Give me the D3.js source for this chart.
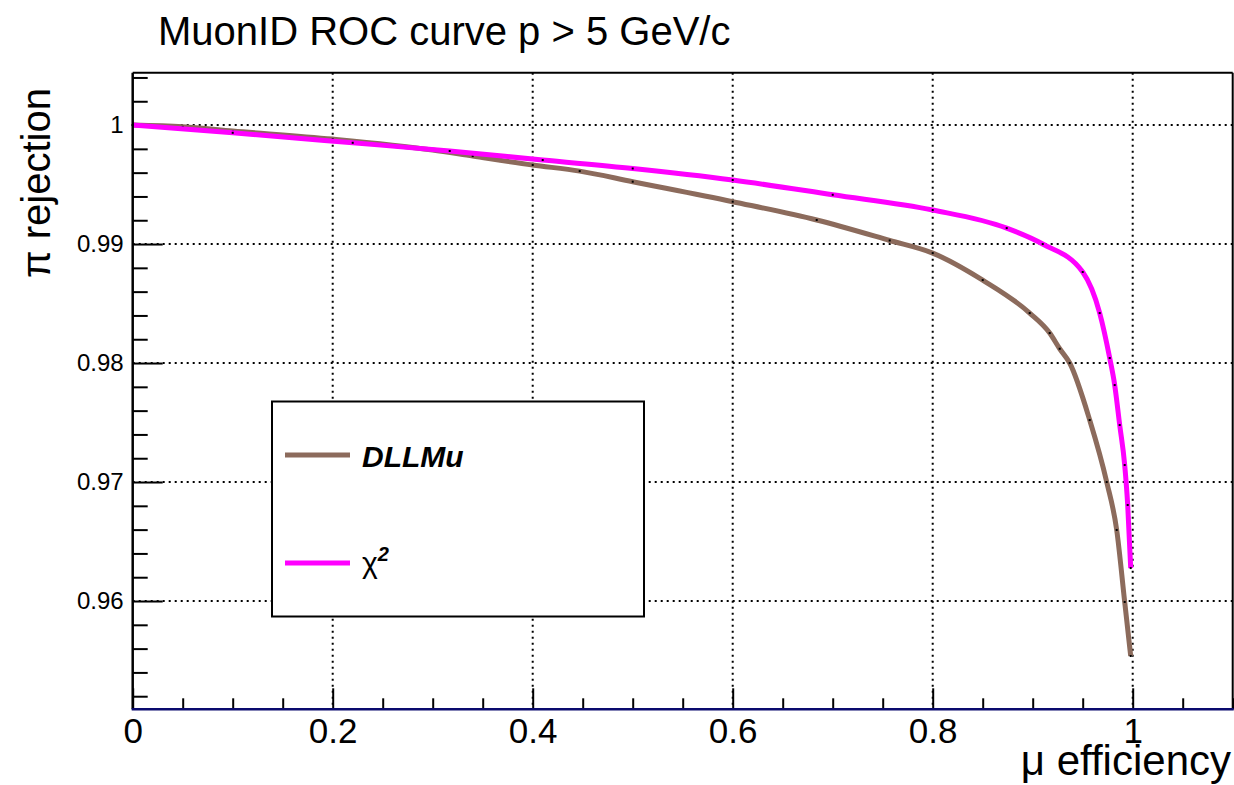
<!DOCTYPE html>
<html>
<head>
<meta charset="utf-8">
<script src="https://cdn.jsdelivr.net/npm/d3@7"></script>
<style>
  body { margin: 0; background: #fff; }
  text { font-family: "Liberation Sans", Arial, sans-serif; }
</style>
</head>
<body>
<svg id="chart" width="1234" height="785"></svg>
<script>
'use strict';

// DLLMu ROC curve
const dllEff = [0, 0.05, 0.1, 0.2, 0.3, 0.34, 0.40, 0.447, 0.5, 0.6, 0.684, 0.757, 0.8, 0.85, 0.897, 0.917, 0.927, 0.937, 0.957, 0.974, 0.984, 0.992, 0.998];
const dllRej = [1.0, 0.99985, 0.9995, 0.99882, 0.9979, 0.99739, 0.99664, 0.99613, 0.99524, 0.99356, 0.99202, 0.9903, 0.98924, 0.98697, 0.9842, 0.98252, 0.9812, 0.98, 0.97521, 0.97, 0.96597, 0.95992, 0.95538];

// chi2 ROC curve
const chiEff = [0, 0.1, 0.22, 0.317, 0.41, 0.5, 0.6, 0.7, 0.8, 0.874, 0.91, 0.95, 0.967, 0.977, 0.982, 0.987, 0.992, 0.995, 0.998];
const chiRej = [1.0, 0.99935, 0.99851, 0.99782, 0.99706, 0.99635, 0.99538, 0.99414, 0.99286, 0.99134, 0.99, 0.98765, 0.9842, 0.98042, 0.97815, 0.97479, 0.97143, 0.96807, 0.96277];

const xMajor = [0, 0.2, 0.4, 0.6, 0.8, 1];
const yMajor = [0.96, 0.97, 0.98, 0.99, 1];

const series = [
    { name: "DLLMu", eff: dllEff, rej: dllRej, color: "#8c6b5c" },
    { name: "chi2", eff: chiEff, rej: chiRej, color: "#ff00ff" }
];

let svg = d3.select("#chart");
let pLeft = 132.7, pRight = 1232.7, pTop = 72.7, pBottom = 709.3;

let x = d3.scaleLinear().domain([0, 1.1]).range([pLeft, pRight]);
let y = d3.scaleLinear().domain([0.9509, 1.0044]).range([pBottom, pTop]);

// grid
let grid = svg.append("g").attr("class", "grid")
    .attr("stroke", "#000").attr("stroke-width", 2).attr("stroke-dasharray", "2,4");
grid.selectAll("line.gx").data(xMajor.filter(d => d > 0)).enter().append("line")
    .attr("x1", d => x(d)).attr("x2", d => x(d))
    .attr("y1", pTop).attr("y2", pBottom);
grid.selectAll("line.gy").data(yMajor).enter().append("line")
    .attr("x1", pLeft).attr("x2", pRight)
    .attr("y1", d => y(d)).attr("y2", d => y(d));

// minor ticks
let xMinor = d3.range(0, 1.1001, 0.05).filter(v => Math.abs(v / 0.2 - Math.round(v / 0.2)) > 1e-6);
let yMinor = d3.range(0.952, 1.0041, 0.002).filter(v => Math.abs(v / 0.01 - Math.round(v / 0.01)) > 1e-6);

svg.append("g").attr("transform", "translate(0," + pBottom + ")")
    .call(d3.axisBottom(x).tickValues(xMinor).tickSize(-11).tickFormat(""))
    .call(g => g.select(".domain").remove())
    .selectAll("line").attr("stroke-width", 2);
svg.append("g").attr("transform", "translate(" + pLeft + ",0)")
    .call(d3.axisLeft(y).tickValues(yMinor).tickSize(-15).tickFormat(""))
    .call(g => g.select(".domain").remove())
    .selectAll("line").attr("stroke-width", 2);

// major axes
let xAxis = svg.append("g").attr("transform", "translate(0," + pBottom + ")")
    .call(d3.axisBottom(x).tickValues(xMajor).tickSize(-21).tickPadding(9).tickFormat(d3.format("")))
    .call(g => g.select(".domain").remove());
xAxis.selectAll("line").attr("stroke-width", 2);
xAxis.selectAll("text").attr("font-size", 35).attr("fill", "#000")
    .style("font-family", "'Liberation Sans', Arial, sans-serif");

let yAxis = svg.append("g").attr("transform", "translate(" + pLeft + ",0)")
    .call(d3.axisLeft(y).tickValues(yMajor).tickSize(-30).tickPadding(9).tickFormat(d3.format("")))
    .call(g => g.select(".domain").remove());
yAxis.selectAll("line").attr("stroke-width", 2);
yAxis.selectAll("text").attr("font-size", 24).attr("fill", "#000")
    .style("font-family", "'Liberation Sans', Arial, sans-serif");

// curves
let line = d3.line().x(d => x(d[0])).y(d => y(d[1])).curve(d3.curveMonotoneX);
series.forEach(function(s) {
    let pts = s.eff.map((e, i) => [e, s.rej[i]]);
    svg.append("path").datum(pts)
        .attr("fill", "none")
        .attr("stroke", s.color)
        .attr("stroke-width", 5)
        .attr("stroke-linejoin", "round")
        .attr("d", line);
    svg.append("g").selectAll("rect").data(pts).enter().append("rect")
        .attr("x", d => x(d[0]) - 1).attr("y", d => y(d[1]) - 1)
        .attr("width", 2).attr("height", 2).attr("fill", "#000");
});

// frame
svg.append("line").attr("x1", pLeft).attr("x2", pRight).attr("y1", pTop).attr("y2", pTop)
    .attr("stroke", "#000").attr("stroke-width", 2);
svg.append("line").attr("x1", pRight).attr("x2", pRight).attr("y1", pTop).attr("y2", pBottom)
    .attr("stroke", "#000").attr("stroke-width", 2);
svg.append("line").attr("x1", pLeft).attr("x2", pLeft).attr("y1", pTop).attr("y2", pBottom)
    .attr("stroke", "#000").attr("stroke-width", 2.5);
svg.append("line").attr("x1", pLeft - 1).attr("x2", pRight + 1).attr("y1", pBottom).attr("y2", pBottom)
    .attr("stroke", "#0a0a6e").attr("stroke-width", 2.5);

// legend
let legend = svg.append("g");
legend.append("rect").attr("x", 272).attr("y", 401.5).attr("width", 372).attr("height", 215)
    .attr("fill", "#fff").attr("stroke", "#000").attr("stroke-width", 2);
legend.append("line").attr("x1", 285).attr("x2", 350).attr("y1", 455).attr("y2", 455)
    .attr("stroke", series[0].color).attr("stroke-width", 5);
legend.append("text").attr("x", 362).attr("y", 467)
    .attr("font-size", 30).attr("font-weight", "bold").attr("font-style", "italic")
    .text("DLLMu");
legend.append("line").attr("x1", 285).attr("x2", 350).attr("y1", 563).attr("y2", 563)
    .attr("stroke", series[1].color).attr("stroke-width", 5);
let chiText = legend.append("text").attr("x", 362).attr("y", 573).attr("font-size", 30);
chiText.append("tspan").text("χ");
chiText.append("tspan").attr("font-size", 20).attr("font-weight", "bold").attr("font-style", "italic")
    .attr("dy", -12).text("2");

// titles
svg.append("text").attr("x", 158).attr("y", 45).attr("font-size", 40)
    .text("MuonID ROC curve p > 5 GeV/c");
svg.append("text").attr("x", 1231).attr("y", 775).attr("text-anchor", "end").attr("font-size", 42)
    .text("μ efficiency");
svg.append("text").attr("transform", "translate(50,88) rotate(-90)")
    .attr("text-anchor", "end").attr("font-size", 40)
    .text("π rejection");
</script>
</body>
</html>
